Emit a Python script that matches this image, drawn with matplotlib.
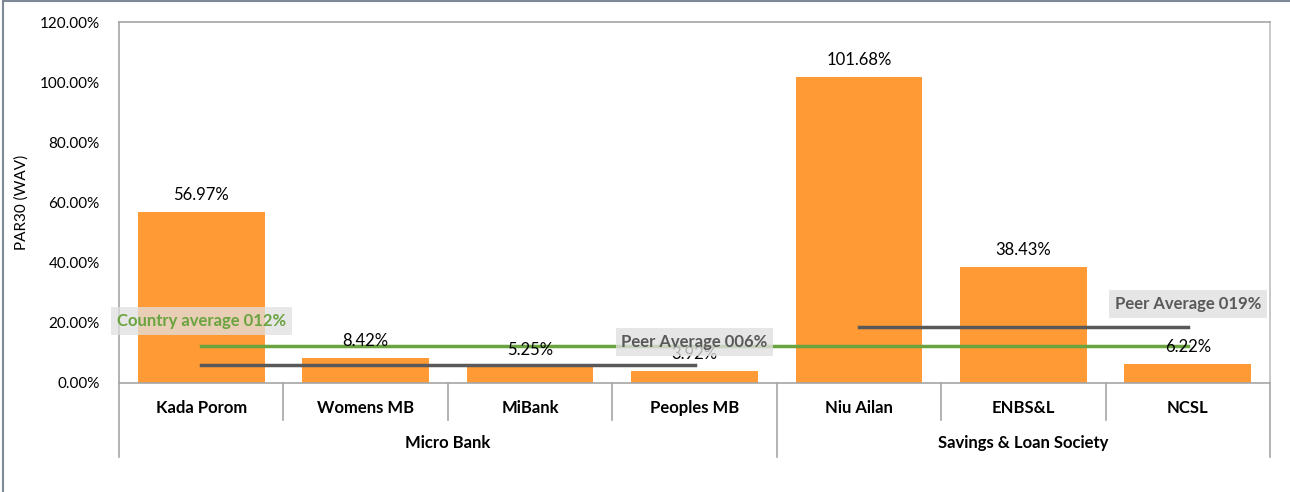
import matplotlib
matplotlib.use("Agg")
import matplotlib.pyplot as plt
import matplotlib.transforms as mtransforms
from matplotlib.patches import Rectangle

plt.rcParams['font.family'] = ['Lato', 'DejaVu Sans']

# data
names = ['Kada Porom', 'Womens MB', 'MiBank', 'Peoples MB', 'Niu Ailan', 'ENBS&L', 'NCSL']
groups = ['Micro Bank', 'Micro Bank', 'Micro Bank', 'Micro Bank',
          'Savings & Loan Society', 'Savings & Loan Society', 'Savings & Loan Society']
par30 = [56.97, 8.42, 5.25, 3.92, 101.68, 38.43, 6.22]
country_avg = 12.3
peer_avg = {'Micro Bank': 6.0, 'Savings & Loan Society': 18.7}
peer_text = {'Micro Bank': 'Peer Average 006%', 'Savings & Loan Society': 'Peer Average 019%'}

bar_col = '#FF9A35'
green = '#6AA33F'
dgray = '#595959'

fig = plt.figure(figsize=(12.9, 4.92), dpi=100)
ax = fig.add_axes([119 / 1290, 1 - 383 / 492, (1270 - 119) / 1290, 361 / 492])

x = list(range(len(names)))
ax.bar(x, par30, width=0.77, color=bar_col, zorder=2)
for xi, v in zip(x, par30):
    ax.text(xi, v + 3, f'{v:.2f}%', ha='center', va='bottom', fontsize=12, color='black', zorder=5)

ax.set_xlim(-0.5, len(names) - 0.5)
ax.set_ylim(0, 120)
ax.set_yticks(range(0, 121, 20))
ax.set_yticklabels([f'{t:.2f}%' for t in range(0, 121, 20)], fontsize=11)
ax.tick_params(axis='y', length=0, pad=14)
ax.set_xticks([])
ax.set_ylabel('PAR30 (WAV)', fontsize=11, labelpad=8)
for s in ax.spines.values():
    s.set_color('#A6A6A6')
    s.set_linewidth(1.2)
ax.spines['right'].set_color('#BFBFBF')

# country average line
ax.plot([0, len(names) - 1], [country_avg, country_avg], color=green, lw=2.5, zorder=3)
ax.text(0, country_avg + 8.3, 'Country average 012%', ha='center', va='center', fontsize=12,
        fontweight='bold', color=green, zorder=6,
        bbox=dict(boxstyle='square,pad=0.35', fc='#E0E0E0', ec='none', alpha=0.75))

# peer average lines per group
order = []
for g in groups:
    if g not in order:
        order.append(g)
for g in order:
    idx = [i for i, gg in enumerate(groups) if gg == g]
    y = peer_avg[g]
    ax.plot([idx[0], idx[-1]], [y, y], color=dgray, lw=2.5, zorder=3)
    ax.text(idx[-1], y + 7.6, peer_text[g], ha='center', va='center', fontsize=12,
            fontweight='bold', color=dgray, zorder=6,
            bbox=dict(boxstyle='square,pad=0.35', fc='#E0E0E0', ec='none', alpha=0.8))

# two-level category axis
trans = mtransforms.blended_transform_factory(ax.transData, ax.transAxes)
for xi, n in zip(x, names):
    ax.text(xi, -0.069, n, transform=trans, ha='center', va='center',
            fontsize=12, fontweight='bold')
for b in range(1, len(names)):
    full = groups[b] != groups[b - 1]
    ax.plot([b - 0.5, b - 0.5], [0, -0.205 if full else -0.1025], transform=trans,
            color='#A6A6A6', lw=1.2, clip_on=False)
for edge in (-0.5, len(names) - 0.5):
    ax.plot([edge, edge], [0, -0.205], transform=trans, color='#A6A6A6', lw=1.2, clip_on=False)
for g in order:
    idx = [i for i, gg in enumerate(groups) if gg == g]
    ax.text((idx[0] + idx[-1]) / 2, -0.166, g, transform=trans, ha='center', va='center',
            fontsize=12, fontweight='bold')

# outer frame of the chart object
fig.add_artist(Rectangle((3 / 1290, -0.01), 1.1, 1.0 - 1 / 492 + 0.01, transform=fig.transFigure,
                         fill=False, ec='#7F8896', lw=1.5))

fig.savefig('out.png', dpi=100)
